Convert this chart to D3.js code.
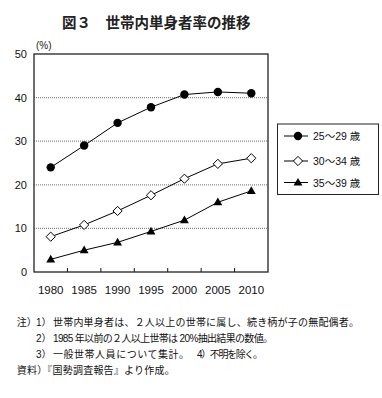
<!DOCTYPE html>
<html><head><meta charset="utf-8">
<script src="https://cdn.jsdelivr.net/npm/d3@7"></script>
<style>body{margin:0;background:#fff}svg{display:block}text{font-family:"Liberation Sans","Noto Sans CJK JP",sans-serif}</style>
</head><body><div id="c"></div>
<script>
const years = ["1980","1985","1990","1995","2000","2005","2010"];
const age25 = [24.0, 29.0, 34.2, 37.8, 40.7, 41.3, 41.0];
const age30 = [8.1, 10.8, 14.0, 17.6, 21.4, 24.8, 26.1];
const age35 = [2.9, 5.0, 6.8, 9.3, 11.9, 16.0, 18.6];
const seriesNames = ["25～29 歳","30～34 歳","35～39 歳"];
const yTicks = [0,10,20,30,40,50];

const W=382,H=398;
const svg=d3.select("#c").append("svg").attr("width",W).attr("height",H);
const L=34,R=268,T=54,B=272;
const x=d3.scaleBand().domain(years).range([L,R]);
const y=d3.scaleLinear().domain([0,50]).range([B,T]);
const jp='"Liberation Sans","Noto Sans CJK JP",sans-serif';

svg.append("text").attr("x",62).attr("y",28).attr("font-family",'"Noto Sans CJK JP",sans-serif').attr("font-weight","bold").attr("font-size",14.5).attr("fill","#222").text("図３　世帯内単身者率の推移");
svg.append("text").attr("x",36).attr("y",49).attr("font-family",'"Noto Sans CJK JP",sans-serif').attr("font-size",10).attr("fill","#222").text("(%)");

// gridlines
svg.append("g").selectAll("line").data(yTicks.filter(d=>d>0&&d<50)).join("line")
  .attr("x1",L).attr("x2",R).attr("y1",d=>y(d)).attr("y2",d=>y(d))
  .attr("stroke","#888").attr("stroke-width",1.3).attr("stroke-dasharray","1,1");

// y labels
const yAxis=svg.append("g").attr("transform",`translate(${L},0)`).call(d3.axisLeft(y).tickValues(yTicks).tickSize(0).tickPadding(7));
yAxis.select(".domain").remove();
yAxis.selectAll("text").attr("font-size",11).attr("fill","#111").attr("font-family","Liberation Sans");

// x axis
const xAxis=svg.append("g").attr("transform",`translate(0,${B})`).call(d3.axisBottom(x).tickSize(0).tickPadding(14));
xAxis.select(".domain").remove();
xAxis.selectAll("text").attr("font-size",11.5).attr("fill","#111").attr("font-family","Liberation Sans");
// inner ticks at band boundaries
svg.append("g").selectAll("line").data(years.slice(1)).join("line")
  .attr("x1",d=>x(d)).attr("x2",d=>x(d)).attr("y1",B).attr("y2",B-4).attr("stroke","#111");

// frame
svg.append("rect").attr("x",L).attr("y",T).attr("width",R-L).attr("height",B-T).attr("fill","none").attr("stroke","#222").attr("stroke-width",1.3);

const line=d3.line().x((d,i)=>x(years[i])+x.bandwidth()/2).y(d=>y(d));
const all=[age25,age30,age35];
function marker(g,k,cx,cy){
  if(k===0) g.append("circle").attr("cx",cx).attr("cy",cy).attr("r",4.2).attr("fill","#000");
  else if(k===1) g.append("path").attr("d",`M${cx},${cy-4.6}L${cx+4.6},${cy}L${cx},${cy+4.6}L${cx-4.6},${cy}Z`).attr("fill","#fff").attr("stroke","#000").attr("stroke-width",1);
  else g.append("path").attr("d",d3.symbol(d3.symbolTriangle,34)()).attr("transform",`translate(${cx},${cy+0.5})`).attr("fill","#000");
}
all.forEach((s,k)=>{
  svg.append("path").datum(s).attr("d",line).attr("fill","none").attr("stroke","#000").attr("stroke-width",1);
  const g=svg.append("g");
  s.forEach((v,i)=>marker(g,k,x(years[i])+x.bandwidth()/2,y(v)));
});

// legend
svg.append("rect").attr("x",277.5).attr("y",124).attr("width",101).attr("height",70.5).attr("fill","#fff").attr("stroke","#222").attr("stroke-width",1);
const ly=[136,161,182.5];
seriesNames.forEach((n,k)=>{
  svg.append("line").attr("x1",284).attr("x2",308).attr("y1",ly[k]).attr("y2",ly[k]).attr("stroke","#000");
  marker(svg,k,298,ly[k]);
  svg.append("text").attr("x",313).attr("y",ly[k]+4).attr("font-family",jp).attr("font-size",10.5).attr("fill","#111").text(n);
});

// notes
const notes=[
  [16.7,326,"注）",0],[36,326,"1）",0],[53,326,"世帯内単身者は、２人以上の世帯に属し、続き柄が子の無配偶者。",306],
  [36,342,"2）",0],[53,342,"1985 年以前の２人以上世帯は 20%抽出結果の数値。",220],
  [36,357.5,"3）",0],[53,357.5,"一般世帯人員について集計。",136],[197,357.5,"4）不明を除く。",66],
  [16.7,373.5,"資料）『国勢調査報告』より作成。",158]
];
svg.append("g").selectAll("text").data(notes).join("text")
  .attr("x",d=>d[0]).attr("y",d=>d[1]).attr("font-family",jp).attr("font-size",10).attr("fill","#111")
  .each(function(d){ if(d[3]) d3.select(this).attr("textLength",d[3]).attr("lengthAdjust","spacing"); })
  .text(d=>d[2]);
</script></body></html>
